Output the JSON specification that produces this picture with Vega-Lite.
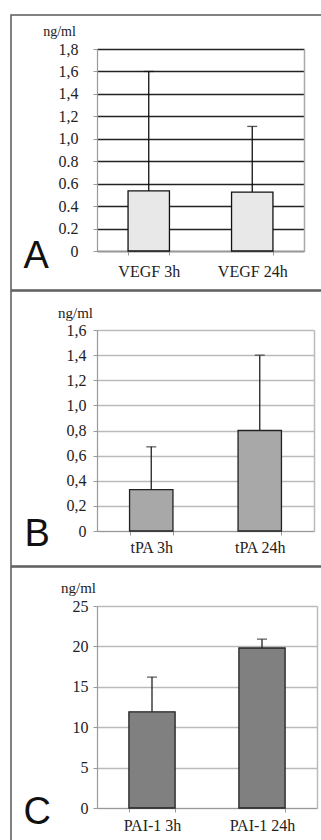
{
  "$schema": "https://vega.github.io/schema/vega-lite/v6.json",
  "padding": {"left": 10, "top": 14, "right": 0, "bottom": 0},
  "background": "white",
  "spacing": -2,
  "data": {"values": [
    {"panel": "A", "group": "VEGF 3h", "mean": 0.535, "upper": 1.6},
    {"panel": "A", "group": "VEGF 24h", "mean": 0.525, "upper": 1.11},
    {"panel": "B", "group": "tPA 3h", "mean": 0.33, "upper": 0.67},
    {"panel": "B", "group": "tPA 24h", "mean": 0.8, "upper": 1.4},
    {"panel": "C", "group": "PAI-1 3h", "mean": 11.9, "upper": 16.2},
    {"panel": "C", "group": "PAI-1 24h", "mean": 19.8, "upper": 20.9}
  ]},
  "vconcat": [
    {
      "width": 311, "height": 275,
      "transform": [{"filter": "datum.panel == 'A'"}],
      "layer": [
        {"mark": {"type": "bar", "fill": "#e8e8e8", "stroke": "#111", "strokeWidth": 1.3},
         "encoding": {
           "x": {"field": "group", "type": "nominal", "sort": null,
                 "scale": {"range": [86, 293], "paddingInner": 0.6, "paddingOuter": 0.3},
                 "axis": {"title": "A", "titleFont": "Liberation Sans", "titleFontSize": 38, "titleFontWeight": "normal", "titleColor": "#111",
                          "titleAlign": "left", "titleX": 12, "titleY": 16, "titleBaseline": "alphabetic",
                          "offset": -39, "domainColor": "#999", "domainWidth": 1.2, "tickBand": "extent", "tickColor": "#999", "tickSize": 4,
                          "labelAngle": 0, "labelFont": "Liberation Serif", "labelFontSize": 16, "labelColor": "#222", "labelPadding": 8, "grid": false}},
           "y": {"field": "mean", "type": "quantitative",
                 "scale": {"domain": [0, 1.8], "range": [236, 34], "nice": false},
                 "axis": {"title": "ng/ml", "titleAngle": 0, "titleX": -38, "titleY": 20, "titleAlign": "center", "titleBaseline": "alphabetic",
                          "titleFont": "Liberation Serif", "titleFontSize": 14, "titleFontWeight": "normal", "titleColor": "#222",
                          "offset": -86, "values": [0, 0.2, 0.4, 0.6, 0.8, 1.0, 1.2, 1.4, 1.6, 1.8],
                          "labelExpr": "datum.value == 0 ? '0' : (datum.value >= 0.99 ? replace(format(datum.value, '.1f'), '.', ',') : format(datum.value, '.1f'))",
                          "labelFont": "Liberation Serif", "labelFontSize": 16, "labelColor": "#222", "labelPadding": 15,
                          "tickSize": 4, "tickColor": "#999", "domainColor": "#999", "domainWidth": 1.2,
                          "grid": true, "gridColor": "#222", "gridWidth": 1.5}}
         }},
        {"mark": {"type": "rule", "color": "#111", "strokeWidth": 1.3},
         "encoding": {
           "x": {"field": "group", "type": "nominal", "sort": null},
           "y": {"field": "mean", "type": "quantitative",
                 "axis": {"orient": "right", "offset": -18, "title": null, "labels": false, "ticks": false, "grid": false, "domainColor": "#aaa", "domainWidth": 1.5}},
           "y2": {"field": "upper"}
         }},
        {"mark": {"type": "tick", "color": "#111", "size": 10, "thickness": 1.3},
         "encoding": {
           "x": {"field": "group", "type": "nominal", "sort": null},
           "y": {"field": "upper", "type": "quantitative", "axis": null}
         }}
      ],
      "resolve": {"axis": {"y": "independent"}}
    },
    {
      "width": 311, "height": 275,
      "transform": [{"filter": "datum.panel == 'B'"}],
      "layer": [
        {"mark": {"type": "bar", "fill": "#a8a8a8", "stroke": "#222", "strokeWidth": 1.3},
         "encoding": {
           "x": {"field": "group", "type": "nominal", "sort": null,
                 "scale": {"range": [86, 303], "paddingInner": 0.6, "paddingOuter": 0.3},
                 "axis": {"title": "B", "titleFont": "Liberation Sans", "titleFontSize": 38, "titleFontWeight": "normal", "titleColor": "#111",
                          "titleAlign": "left", "titleX": 13, "titleY": 14, "titleBaseline": "alphabetic",
                          "offset": -35, "domainColor": "#999", "domainWidth": 1.2, "tickBand": "extent", "tickColor": "#999", "tickSize": 4,
                          "labelAngle": 0, "labelFont": "Liberation Serif", "labelFontSize": 16, "labelColor": "#222", "labelPadding": 4, "grid": false}},
           "y": {"field": "mean", "type": "quantitative",
                 "scale": {"domain": [0, 1.6], "range": [240, 39], "nice": false},
                 "axis": {"title": "ng/ml", "titleAngle": 0, "titleX": -22, "titleY": 26, "titleAlign": "center", "titleBaseline": "alphabetic",
                          "titleFont": "Liberation Serif", "titleFontSize": 15, "titleFontWeight": "normal", "titleColor": "#222",
                          "offset": -86, "values": [0, 0.2, 0.4, 0.6, 0.8, 1.0, 1.2, 1.4, 1.6],
                          "labelExpr": "datum.value == 0 ? '0' : replace(format(datum.value, '.1f'), '.', ',')",
                          "labelFont": "Liberation Serif", "labelFontSize": 16, "labelColor": "#222", "labelPadding": 7,
                          "tickSize": 4, "tickColor": "#999", "domainColor": "#999", "domainWidth": 1.2,
                          "grid": true, "gridColor": "#bbb", "gridWidth": 1.3}}
         }},
        {"mark": {"type": "rule", "color": "#222", "strokeWidth": 1.3},
         "encoding": {
           "x": {"field": "group", "type": "nominal", "sort": null},
           "y": {"field": "mean", "type": "quantitative",
                 "axis": {"orient": "right", "offset": -8, "title": null, "labels": false, "ticks": false, "grid": false, "domainColor": "#bbb", "domainWidth": 1.5}},
           "y2": {"field": "upper"}
         }},
        {"mark": {"type": "tick", "color": "#222", "size": 10, "thickness": 1.3},
         "encoding": {
           "x": {"field": "group", "type": "nominal", "sort": null},
           "y": {"field": "upper", "type": "quantitative", "axis": null}
         }}
      ],
      "resolve": {"axis": {"y": "independent"}}
    },
    {
      "width": 311, "height": 280,
      "transform": [{"filter": "datum.panel == 'C'"}],
      "layer": [
        {"mark": {"type": "bar", "fill": "#808080", "stroke": "#222", "strokeWidth": 1.3},
         "encoding": {
           "x": {"field": "group", "type": "nominal", "sort": null,
                 "scale": {"range": [86, 306], "paddingInner": 0.58, "paddingOuter": 0.29},
                 "axis": {"title": "C", "titleFont": "Liberation Sans", "titleFontSize": 38, "titleFontWeight": "normal", "titleColor": "#111",
                          "titleAlign": "left", "titleX": 12, "titleY": 15, "titleBaseline": "alphabetic",
                          "offset": -39, "domainColor": "#999", "domainWidth": 1.2, "tickBand": "extent", "tickColor": "#999", "tickSize": 4,
                          "labelAngle": 0, "labelFont": "Liberation Serif", "labelFontSize": 16, "labelColor": "#222", "labelPadding": 5, "grid": false}},
           "y": {"field": "mean", "type": "quantitative",
                 "scale": {"domain": [0, 25], "range": [241, 39], "nice": false},
                 "axis": {"title": "ng/ml", "titleAngle": 0, "titleX": -19, "titleY": 25, "titleAlign": "center", "titleBaseline": "alphabetic",
                          "titleFont": "Liberation Serif", "titleFontSize": 15, "titleFontWeight": "normal", "titleColor": "#222",
                          "offset": -86, "values": [0, 5, 10, 15, 20, 25],
                          "labelFont": "Liberation Serif", "labelFontSize": 16, "labelColor": "#222", "labelPadding": 5,
                          "tickSize": 4, "tickColor": "#999", "domainColor": "#999", "domainWidth": 1.2,
                          "grid": true, "gridColor": "#bbb", "gridWidth": 1.3}}
         }},
        {"mark": {"type": "rule", "color": "#222", "strokeWidth": 1.3},
         "encoding": {
           "x": {"field": "group", "type": "nominal", "sort": null},
           "y": {"field": "mean", "type": "quantitative",
                 "axis": {"orient": "right", "offset": -5, "title": null, "labels": false, "ticks": false, "grid": false, "domainColor": "#bbb", "domainWidth": 1.5}},
           "y2": {"field": "upper"}
         }},
        {"mark": {"type": "tick", "color": "#222", "size": 10, "thickness": 1.3},
         "encoding": {
           "x": {"field": "group", "type": "nominal", "sort": null},
           "y": {"field": "upper", "type": "quantitative", "axis": null}
         }}
      ],
      "resolve": {"axis": {"y": "independent"}}
    }
  ],
  "config": {
    "view": {"stroke": "#5a5a5a", "strokeWidth": 1.5},
    "axis": {"labelOverlap": false}
  }
}
